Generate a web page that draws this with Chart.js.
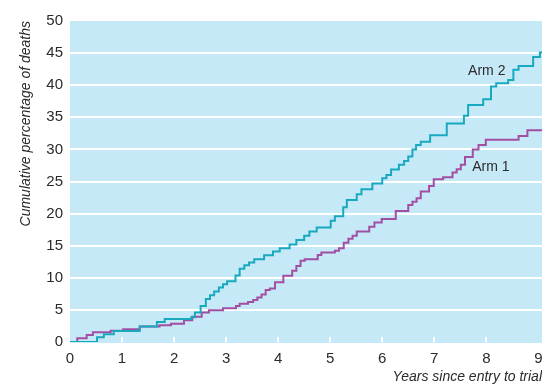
<!DOCTYPE html>
<html>
<head>
<meta charset="utf-8">
<script src="https://cdn.jsdelivr.net/npm/chart.js@4.4.1/dist/chart.umd.min.js"></script>
<style>
html, body { margin: 0; padding: 0; background: #fff; }
</style>
</head>
<body>
<canvas id="km-chart" width="542" height="386"></canvas>
<script>
// cumulative deaths, step curves

var arm1Years = [0, 0.14, 0.32, 0.44, 0.78, 1.02, 1.34, 1.72, 1.94, 2.19, 2.35, 2.53, 2.67, 2.94, 3.19, 3.26, 3.42, 3.52, 3.60, 3.68,
    3.76, 3.84, 3.94, 4.10, 4.27, 4.35, 4.43, 4.51, 4.76, 4.83, 5.09, 5.17, 5.26, 5.35, 5.43, 5.51, 5.75, 5.85, 5.99, 6.26,
    6.50, 6.58, 6.66, 6.74, 6.90, 6.99, 7.17, 7.35, 7.43, 7.51, 7.59, 7.74, 7.85, 7.99, 8.62, 8.79, 9.07];
var arm1Pct = [0, 0.6, 1.1, 1.5, 1.75, 2.0, 2.4, 2.6, 2.85, 3.4, 3.95, 4.6, 4.95, 5.25, 5.6, 5.95, 6.25, 6.55, 6.95, 7.4,
    8.1, 8.35, 9.3, 10.3, 11.1, 11.85, 12.65, 12.9, 13.55, 13.95, 14.2, 14.6, 15.45, 16.1, 16.55, 17.2, 17.95, 18.6, 19.15, 20.4,
    21.35, 21.85, 22.4, 23.45, 24.3, 25.35, 25.65, 26.4, 26.9, 27.6, 28.8, 30.0, 30.7, 31.5, 32.1, 33.0, 33.0];

var arm2Years = [0, 0.52, 0.65, 0.84, 1.34, 1.67, 1.82, 2.33, 2.40, 2.51, 2.61, 2.69, 2.77, 2.86, 2.94, 3.02, 3.18, 3.26, 3.35, 3.44,
    3.54, 3.73, 3.90, 4.03, 4.22, 4.35, 4.50, 4.60, 4.74, 5.01, 5.09, 5.25, 5.32, 5.51, 5.60, 5.81, 6.00, 6.08, 6.17, 6.32,
    6.42, 6.50, 6.58, 6.65, 6.74, 6.92, 7.24, 7.57, 7.65, 7.94, 8.09, 8.19, 8.42, 8.52, 8.62, 8.90, 9.03, 9.07];
var arm2Pct = [0, 0.75, 1.2, 1.7, 2.4, 3.1, 3.6, 3.85, 4.6, 5.6, 6.7, 7.3, 7.85, 8.5, 9.0, 9.45, 10.35, 11.4, 11.95, 12.4,
    12.9, 13.5, 14.1, 14.6, 15.2, 15.9, 16.55, 17.2, 17.85, 18.9, 19.6, 21.0, 22.1, 23.0, 23.8, 24.7, 25.5, 26.0, 26.85, 27.6,
    28.2, 28.9, 30.0, 30.7, 31.2, 32.2, 34.05, 35.25, 36.9, 37.8, 39.8, 40.3, 40.8, 42.4, 43.0, 44.4, 45.1, 45.1];

var seriesNames = ['Arm 1', 'Arm 2'];
// where the arm names sit (years, percent)
var labelPos = [[7.73, 27.25], [7.65, 42.2]];

var xTitle = 'Years since entry to trial';
var yTitle = 'Cumulative percentage of deaths';

// narrow font if it is there, plain sans otherwise
function hasFont(name) {
    var c = document.createElement('canvas').getContext('2d');
    var s = 'Cumulative percentage 0123456789';
    c.font = '20px monospace';
    var w0 = c.measureText(s).width;
    c.font = '20px "' + name + '", monospace';
    return c.measureText(s).width !== w0;
}
var narrow = hasFont('Liberation Sans Narrow');
var family = narrow ? '"Liberation Sans Narrow", "Liberation Sans", Arial, sans-serif' : '"Liberation Sans", Arial, sans-serif';
var tickSize = narrow ? 17 : 15;
var titleSize = narrow ? 17 : 14;
var labelSize = narrow ? 17 : 14;

Chart.defaults.font.family = family;
Chart.defaults.font.size = tickSize;
Chart.defaults.color = '#2b2b2b';

function toPoints(xs, ys) {
    var pts = [];
    for (var i = 0; i < xs.length; i++) pts.push({ x: xs[i], y: ys[i] });
    return pts;
}

var panelPlugin = {
    id: 'panel',
    beforeDraw: function (chart) {
        var a = chart.chartArea, c = chart.ctx;
        c.save();
        c.fillStyle = '#c6e9f8';
        c.fillRect(a.left, a.top, a.right - a.left, a.bottom - a.top + 1);
        c.restore();
    },
    beforeDatasetsDraw: function (chart) {
        // little white tick marks at the foot of the panel
        var a = chart.chartArea, c = chart.ctx, xs = chart.scales.x;
        c.save();
        c.strokeStyle = '#ffffff';
        c.lineWidth = 2;
        xs.ticks.forEach(function (t) {
            if (t.value <= 0 || t.value >= 9) return;
            var px = Math.round(xs.getPixelForValue(t.value));
            c.beginPath();
            c.moveTo(px, a.bottom);
            c.lineTo(px, a.bottom - 5);
            c.stroke();
        });
        c.restore();
    },
    afterDatasetsDraw: function (chart) {
        var c = chart.ctx, xs = chart.scales.x, ys = chart.scales.y;
        c.save();
        c.fillStyle = '#2b2b2b';
        c.font = labelSize + 'px ' + family;
        c.textAlign = 'left';
        c.textBaseline = 'middle';
        for (var i = 0; i < seriesNames.length; i++) {
            c.fillText(seriesNames[i], xs.getPixelForValue(labelPos[i][0]), ys.getPixelForValue(labelPos[i][1]));
        }
        c.restore();
    }
};

var ctx = document.getElementById('km-chart').getContext('2d');

var chart = new Chart(ctx, {
    type: 'line',
    data: {
        datasets: [{
            label: seriesNames[1],
            data: toPoints(arm2Years, arm2Pct),
            borderColor: '#19a9bf',
            borderWidth: 2,
            stepped: 'before',
            pointRadius: 0,
            fill: false
        }, {
            label: seriesNames[0],
            data: toPoints(arm1Years, arm1Pct),
            borderColor: '#a24fa3',
            borderWidth: 2,
            stepped: 'before',
            pointRadius: 0,
            fill: false
        }]
    },
    options: {
        responsive: false,
        animation: false,
        layout: {
            padding: { top: 21, right: 0, bottom: 0, left: 0 }
        },
        scales: {
            x: {
                type: 'linear',
                min: 0,
                max: 9.07,
                grid: { display: false },
                border: { display: false },
                ticks: {
                    stepSize: 1,
                    includeBounds: false,
                    padding: 0,
                    maxRotation: 0
                },
                title: {
                    display: true,
                    text: xTitle,
                    align: 'end',
                    font: { style: 'italic', size: titleSize },
                    padding: { top: 0, bottom: 0 }
                },
                afterFit: function (scale) {
                    scale.height = 44;
                    scale.paddingRight = 0;
                    scale.paddingLeft = 0;
                }
            },
            y: {
                min: 0,
                max: 50,
                border: { display: false },
                grid: {
                    drawTicks: false,
                    lineWidth: 2,
                    color: function (c) {
                        var v = c.tick ? c.tick.value : 0;
                        return (v > 0 && v < 50) ? '#ffffff' : 'rgba(0,0,0,0)';
                    }
                },
                ticks: {
                    stepSize: 5,
                    padding: 7
                },
                title: {
                    display: true,
                    text: yTitle,
                    align: 'end',
                    font: { style: 'italic', size: titleSize },
                    padding: { top: 18, bottom: 0 }
                },
                afterFit: function (scale) {
                    scale.width = 70;
                }
            }
        },
        plugins: {
            legend: { display: false },
            tooltip: { enabled: false }
        }
    },
    plugins: [panelPlugin]
});
</script>
</body>
</html>
